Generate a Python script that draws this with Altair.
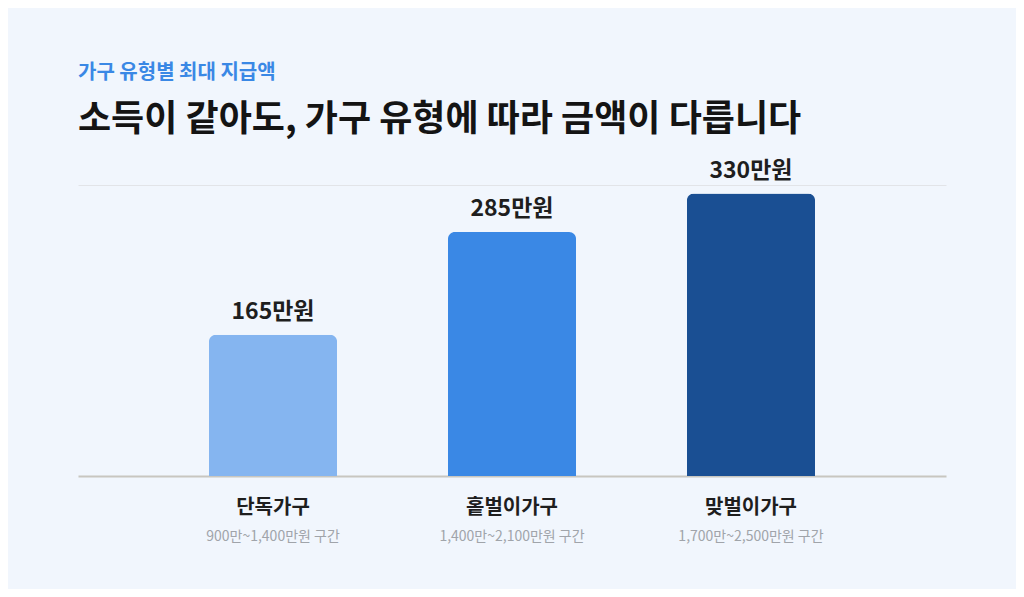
import pandas as pd
import altair as alt

# 가구 유형별 최대 지급액 (만원)
households = ["단독가구", "홑벌이가구", "맞벌이가구"]
max_pay = [165, 285, 330]
pay_labels = ["165만원", "285만원", "330만원"]
income_ranges = ["900만~1,400만원 구간", "1,400만~2,100만원 구간", "1,700만~2,500만원 구간"]
bar_colors = ["#85B5F0", "#3A88E5", "#1A4F93"]

FONT = "Noto Sans CJK KR"
W, H = 868, 291

df = pd.DataFrame({
    "household": households,
    "pay": max_pay,
    "label": pay_labels,
    "range": income_ranges,
})

x = alt.X(
    "household:N",
    sort=households,
    scale=alt.Scale(paddingInner=0.464, paddingOuter=0.548),
    axis=alt.Axis(
        title=None, ticks=False, domainColor="#C8C6C0", domainWidth=2,
        labelFont=FONT, labelFontSize=20, labelFontWeight="bold",
        labelColor="#1E1E1E", labelPadding=21, labelAngle=0,
    ),
)
y = alt.Y(
    "pay:Q",
    scale=alt.Scale(domain=[0, 340], nice=False),
    axis=alt.Axis(
        values=[340], labels=False, ticks=False, domain=False, title=None,
        grid=True, gridColor="#E2E4E8", gridWidth=1,
    ),
)

base = alt.Chart(df)

bars = base.mark_bar(cornerRadiusTopLeft=7, cornerRadiusTopRight=7).encode(
    x=x,
    y=y,
    color=alt.Color("household:N", sort=households,
                    scale=alt.Scale(domain=households, range=bar_colors), legend=None),
)

values = base.mark_text(
    font=FONT, fontSize=23, fontWeight="bold", color="#1E1E1E", baseline="bottom", dy=-11
).encode(x=alt.X("household:N", sort=households), y="pay:Q", text="label:N")

ranges = base.mark_text(
    font=FONT, fontSize=14, color="#A0A4AA", baseline="middle"
).encode(x=alt.X("household:N", sort=households), y=alt.value(H + 61), text="range:N")

chart = alt.layer(bars, values, ranges).properties(
    width=W,
    height=H,
    autosize=alt.AutoSizeParams(type="none"),
    padding={"left": 70, "top": 177, "right": 70, "bottom": 113},
    background="#F1F6FD",
    title=alt.Title(
        "가구 유형별 최대 지급액",
        subtitle="소득이 같아도, 가구 유형에 따라 금액이 다릅니다",
        anchor="start",
        font=FONT, fontSize=20, fontWeight="bold", color="#3A88E5",
        subtitleFont=FONT, subtitleFontSize=36, subtitleFontWeight="bold",
        subtitleColor="#141414", subtitlePadding=20, offset=22,
    ),
).configure_view(stroke=None)

chart.save("out.html", embed_options={"renderer": "svg", "actions": False})
